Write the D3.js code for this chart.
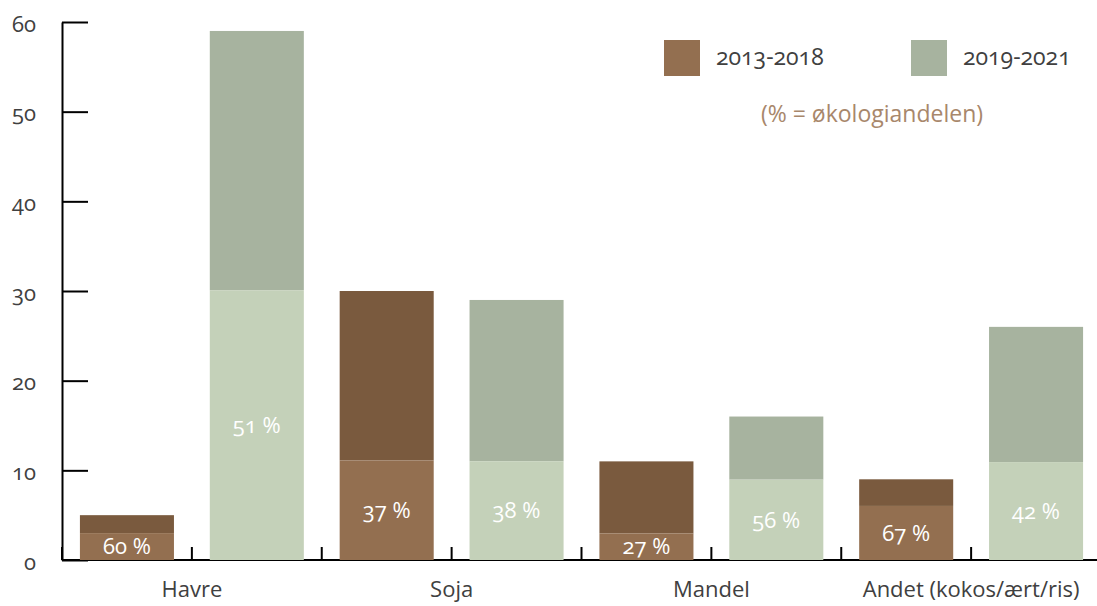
<!DOCTYPE html>
<html>
<head>
<meta charset="utf-8">
<script src="https://cdn.jsdelivr.net/npm/d3@7"></script>
<style>
  html, body { margin: 0; padding: 0; background: #fff; }
  svg text { font-family: "Open Sans", Lato, sans-serif; font-variant-numeric: oldstyle-nums; font-feature-settings: "onum" 1; }
</style>
</head>
<body>
<svg id="chart" width="1097" height="606"></svg>
<script>
// Plant-based drink categories and the two periods compared
const categories = ["Havre", "Soja", "Mandel", "Andet (kokos/ært/ris)"];
const periods = ["2013-2018", "2019-2021"];
// Total volume per category for each period
const totals2013_2018 = [5, 30, 11, 9];
const totals2019_2021 = [59, 29, 16, 26];
// Organic share (%) per category for each period
const organicPct2013_2018 = [60, 37, 27, 67];
const organicPct2019_2021 = [51, 38, 56, 42];
const yTicks = [0, 10, 20, 30, 40, 50, 60];

const colors = {
  "2013-2018": { organic: "#936f50", rest: "#7a5a3e" },
  "2019-2021": { organic: "#c4d1b9", rest: "#a7b39f" }
};

const rows = [];
categories.forEach((c, i) => {
  rows.push({ cat: c, period: periods[0], total: totals2013_2018[i], pct: organicPct2013_2018[i] });
  rows.push({ cat: c, period: periods[1], total: totals2019_2021[i], pct: organicPct2019_2021[i] });
});
rows.forEach(d => { d.organic = d.total * d.pct / 100; });

const svg = d3.select("#chart");
const plotLeft = 62, plotRight = 1101, plotTop = 22, plotBottom = 560;

const x0 = d3.scaleBand().domain(categories).range([plotLeft, plotRight]).padding(0);
const x1 = d3.scaleBand().domain(periods).range([0, x0.bandwidth()])
  .paddingInner(0.276).paddingOuter(0.138);
const y = d3.scaleLinear().domain([0, 60]).range([plotBottom, plotTop]);

// x baseline with upward ticks at every bar slot boundary
const xAxisG = svg.append("g");
xAxisG.append("line")
  .attr("x1", plotLeft).attr("x2", 1097).attr("y1", plotBottom).attr("y2", plotBottom)
  .attr("stroke", "#000").attr("stroke-width", 2);
const slotEdges = [];
categories.forEach(c => {
  slotEdges.push(x0(c));
  slotEdges.push(x0(c) + x0.bandwidth() / 2);
});
slotEdges.push(plotRight);
xAxisG.selectAll("line.tick").data(slotEdges).join("line")
  .attr("class", "tick")
  .attr("x1", d => d).attr("x2", d => d)
  .attr("y1", plotBottom).attr("y2", plotBottom - 13)
  .attr("stroke", "#000").attr("stroke-width", 2);

// y axis: ticks point into the plot, labels on the left
const yAxis = d3.axisLeft(y).tickValues(yTicks).tickSize(-26).tickSizeOuter(0).tickPadding(26);
const yG = svg.append("g").attr("transform", `translate(${plotLeft},0)`).call(yAxis);
yG.select(".domain").attr("stroke", "#000").attr("stroke-width", 2);
yG.selectAll(".tick line").attr("stroke", "#000").attr("stroke-width", 2);
yG.selectAll(".tick text")
  .attr("fill", "#404040").attr("font-size", 22).attr("dy", "0.42em")
  .attr("font-family", "'Open Sans', sans-serif");

// stacked bars: organic share at the bottom, remainder on top
const barG = svg.append("g");
const groups = barG.selectAll("g.bar").data(rows).join("g")
  .attr("class", "bar")
  .attr("transform", d => `translate(${x0(d.cat) + x1(d.period)},0)`);
groups.append("rect")
  .attr("x", 0).attr("width", x1.bandwidth())
  .attr("y", d => y(d.total)).attr("height", d => y(d.organic) - y(d.total))
  .attr("fill", d => colors[d.period].rest);
groups.append("rect")
  .attr("x", 0).attr("width", x1.bandwidth())
  .attr("y", d => y(d.organic)).attr("height", d => y(0) - y(d.organic))
  .attr("fill", d => colors[d.period].organic);
groups.append("text")
  .attr("x", x1.bandwidth() / 2)
  .attr("y", d => (y(d.organic) + y(0)) / 2)
  .attr("dy", "0.35em")
  .attr("text-anchor", "middle")
  .attr("fill", "#fff").attr("font-size", 22)
  .text(d => `${d.pct} %`);

// category labels
svg.append("g").selectAll("text").data(categories).join("text")
  .attr("x", d => x0(d) + x0.bandwidth() / 2)
  .attr("y", 597)
  .attr("text-anchor", "middle")
  .attr("fill", "#404040").attr("font-size", 22)
  .text(d => d);

// legend
const legend = svg.append("g");
const legendItems = [
  { label: periods[0], color: colors["2013-2018"].organic, x: 664 },
  { label: periods[1], color: colors["2019-2021"].rest, x: 911 }
];
legendItems.forEach(it => {
  legend.append("rect").attr("x", it.x).attr("y", 40).attr("width", 36).attr("height", 36).attr("fill", it.color);
  legend.append("text").attr("x", it.x + 52).attr("y", 65)
    .attr("fill", "#404040").attr("font-size", 23).text(it.label);
});
legend.append("text").attr("x", 872).attr("y", 122).attr("text-anchor", "middle")
  .attr("fill", "#a8876b").attr("font-size", 23).text("(% = økologiandelen)");
</script>
</body>
</html>
